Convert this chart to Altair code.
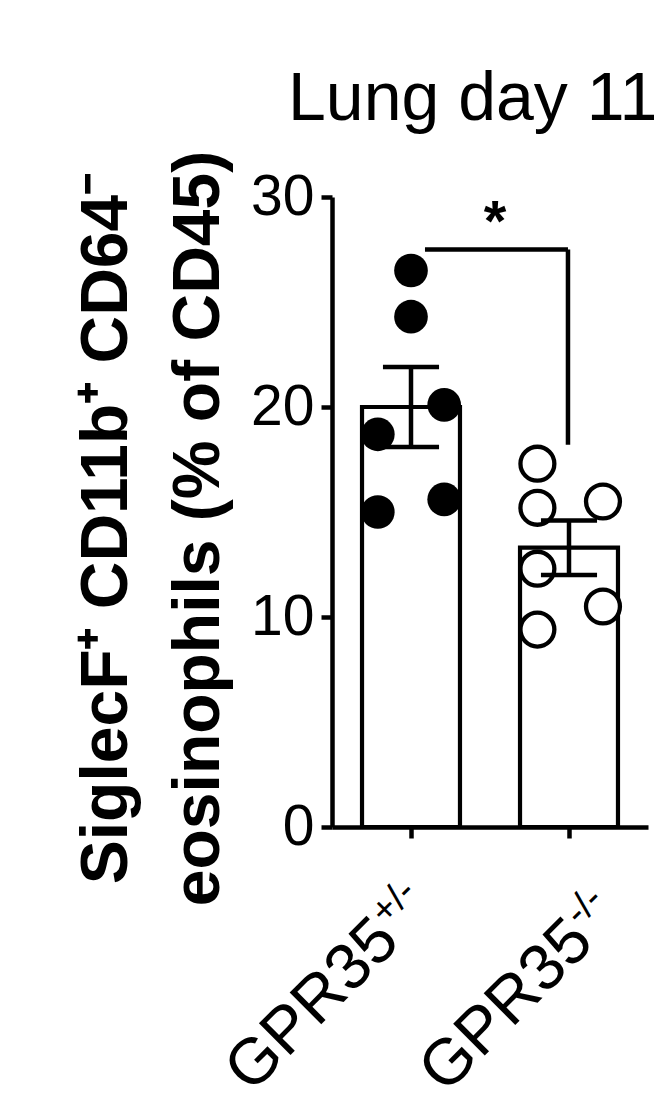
import altair as alt
import pandas as pd

# ---- data ----
groups = ["GPR35+/-", "GPR35-/-"]
group_x = [1, 3]
label_main = ["GPR35", "GPR35"]
label_sup = ["+/-", "-/-"]
bar_means = [20.0, 13.3]
bar_sems = [1.9, 1.3]

het_values = [26.5, 24.3, 20.1, 18.7, 15.0, 15.6]
het_offsets = [0.0, 0.0, 0.42, -0.42, -0.42, 0.42]
ko_values = [17.3, 15.2, 15.5, 12.3, 10.5, 9.4]
ko_offsets = [-0.4, -0.4, 0.43, -0.4, 0.43, -0.4]

bracket_left = 1.177
bracket_right = 2.987
bracket_top = 27.5
bracket_bottom = 18.2
star_x = 2.063
star_y = 27.9

y_ticks = [0, 10, 20, 30]
title_text = "Lung day 11"
y_title = ["SiglecF\u207a CD11b\u207a CD64\u207b", "eosinophils (% of CD45)"]

FONT = "Liberation Sans"
LW = 4.5

# ---- tables ----
bars = pd.DataFrame({"group": groups, "x": group_x, "mean": bar_means, "sem": bar_sems})
het = pd.DataFrame({"x": [group_x[0] + o for o in het_offsets], "v": het_values})
ko = pd.DataFrame({"x": [group_x[1] + o for o in ko_offsets], "v": ko_values})
bracket_h = pd.DataFrame({"x": [bracket_left], "x2": [bracket_right], "y": [bracket_top]})
bracket_v = pd.DataFrame({"x": [bracket_right], "y": [bracket_top], "y2": [bracket_bottom]})
star = pd.DataFrame({"x": [star_x], "y": [star_y], "t": ["*"]})
labels = pd.DataFrame({"x": group_x, "main": label_main, "sup": label_sup})
title_df = pd.DataFrame({"t": [title_text]})

xs = alt.Scale(domain=[0, 4], nice=False, zero=False)
ys = alt.Scale(domain=[0, 30], nice=False)
xaxis = alt.Axis(values=group_x, labels=False, title=None, grid=False, tickSize=11,
                 tickWidth=LW, domainWidth=LW, domainColor="black", tickColor="black")
yaxis = alt.Axis(values=y_ticks, title=y_title, grid=False, tickSize=11, tickWidth=LW,
                 domainWidth=LW, domainColor="black", tickColor="black",
                 labelFont=FONT, labelFontSize=57, labelColor="black", labelPadding=7,
                 titleFont=FONT, titleFontSize=66, titleFontWeight="bold", titleColor="black",
                 titleAngle=270, titleX=-206, titleY=331, titleAlign="center",
                 titleBaseline="alphabetic", titleLineHeight=92)


def X(f):
    return alt.X(f, type="quantitative", scale=xs, axis=xaxis)


def Y(f):
    return alt.Y(f, type="quantitative", scale=ys, axis=yaxis)


bar_layer = alt.Chart(bars).transform_calculate(
    lo="datum.x - 0.62", hi="datum.x + 0.62"
).mark_bar(fill="white", stroke="black", strokeWidth=4.2).encode(
    x=X("lo"), x2=alt.X2("hi"), y=Y("mean"), y2=alt.Y2(datum=0)
)

het_layer = alt.Chart(het).mark_point(shape="circle", filled=True, color="black",
                                      size=1134, opacity=1).encode(x=X("x"), y=Y("v"))
ko_layer = alt.Chart(ko).mark_point(shape="circle", filled=False, fill="white", stroke="black",
                                    strokeWidth=4.3, size=1150, opacity=1, fillOpacity=1).encode(
    x=X("x"), y=Y("v"))

err_v = alt.Chart(bars).transform_calculate(
    top="datum.mean + datum.sem", bot="datum.mean - datum.sem"
).mark_rule(color="black", strokeWidth=LW).encode(x=X("x"), y=Y("bot"), y2=alt.Y2("top"))

err_caps = alt.Chart(bars).transform_calculate(
    top="datum.mean + datum.sem", bot="datum.mean - datum.sem",
    cl="datum.x - 0.355", cr="datum.x + 0.355"
).transform_fold(["top", "bot"], as_=["k", "yy"]).mark_rule(color="black", strokeWidth=LW).encode(
    x=X("cl"), x2=alt.X2("cr"), y=Y("yy")
)

br_h = alt.Chart(bracket_h).mark_rule(color="black", strokeWidth=LW).encode(
    x=X("x"), x2=alt.X2("x2"), y=Y("y"))
br_v = alt.Chart(bracket_v).mark_rule(color="black", strokeWidth=LW).encode(
    x=X("x"), y=Y("y"), y2=alt.Y2("y2"))
star_layer = alt.Chart(star).mark_text(font=FONT, fontSize=58, fontWeight="bold", color="black",
                                       baseline="alphabetic", align="center").encode(
    x=X("x"), y=Y("y"), text="t:N")

label_layers = []
offsets = [(-89, 76), (-64, 102)]
for i, (dx, dy) in enumerate(offsets):
    sub = labels.iloc[[i]]
    label_layers.append(
        alt.Chart(sub).mark_text(font=FONT, fontSize=65, color="black", angle=315,
                                 align="right", baseline="alphabetic", dx=dx, dy=dy).encode(
            x=X("x"), y=alt.value(630), text="main:N"))
    label_layers.append(
        alt.Chart(sub).mark_text(font=FONT, fontSize=38, color="black", angle=315,
                                 align="left", baseline="alphabetic", dx=dx + 1, dy=dy - 24).encode(
            x=X("x"), y=alt.value(630), text="sup:N"))

title_layer = alt.Chart(title_df).mark_text(font=FONT, fontSize=68, color="black",
                                            align="left", baseline="alphabetic").encode(
    x=alt.value(-44), y=alt.value(-77), text="t:N")

chart = alt.layer(
    bar_layer, het_layer, ko_layer, err_v, err_caps, br_h, br_v, star_layer,
    *label_layers, title_layer
).properties(
    width=316, height=630,
    padding={"left": 324, "top": 189, "right": 14, "bottom": 290},
    autosize=alt.AutoSizeParams(type="none"),
    background="white",
).configure_view(stroke=None)

chart.save("out.html", embed_options={"renderer": "svg", "actions": False})
